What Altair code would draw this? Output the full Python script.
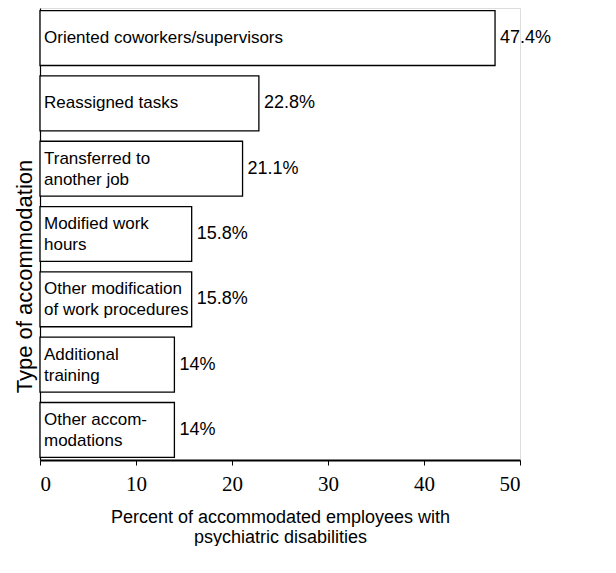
import altair as alt
import pandas as pd

categories = [
    "Oriented coworkers/supervisors",
    "Reassigned tasks",
    "Transferred to another job",
    "Modified work hours",
    "Other modification of work procedures",
    "Additional training",
    "Other accommodations",
]
bar_labels = [
    "Oriented coworkers/supervisors",
    "Reassigned  tasks",
    "Transferred to\nanother job",
    "Modified work\nhours",
    "Other modification\nof work procedures",
    "Additional\ntraining",
    "Other accom-\nmodations",
]
values = [47.4, 22.8, 21.1, 15.8, 15.8, 14.0, 14.0]
value_labels = ["47.4%", "22.8%", "21.1%", "15.8%", "15.8%", "14%", "14%"]

df = pd.DataFrame({
    "cat": categories,
    "label": bar_labels,
    "value": values,
    "vlabel": value_labels,
})
df["nlines"] = df["label"].str.count("\n") + 1

y_enc = alt.Y("cat:N", sort=categories,
              scale=alt.Scale(paddingInner=0.16, paddingOuter=0.04),
              axis=alt.Axis(title="Type of accommodation", labels=False, ticks=False,
                            domain=True, domainColor="black", domainWidth=1.2,
                            titleFont="Liberation Sans", titleFontSize=22,
                            titleFontWeight="normal", titleColor="black",
                            titlePadding=4, titleY=268))
x_enc = alt.X("value:Q",
              scale=alt.Scale(domain=[0, 50], nice=False),
              axis=alt.Axis(values=[0, 10, 20, 30, 40, 50], grid=False,
                            labelFont="Liberation Serif", labelFontSize=21,
                            labelColor="black", labelPadding=8,
                            tickSize=5, tickColor="black",
                            domainColor="black", domainWidth=2,
                            title=["Percent of accommodated employees with",
                                   "psychiatric disabilities"],
                            titleFont="Liberation Sans", titleFontSize=18,
                            titleFontWeight="normal", titleColor="black",
                            titlePadding=14))

base = alt.Chart(df)

bars = base.mark_bar(fill="white", stroke="black", strokeWidth=1.3).encode(
    x=x_enc, y=y_enc
)

inner1 = base.transform_filter("datum.nlines == 1").mark_text(
    align="left", baseline="middle", dx=4, font="Liberation Sans",
    fontSize=17, color="black"
).encode(
    x=alt.value(0), y=alt.Y("cat:N", sort=categories), text="label:N"
)

inner2 = base.transform_filter("datum.nlines == 2").mark_text(
    align="left", baseline="middle", dx=4, dy=-10, font="Liberation Sans",
    fontSize=17, color="black", lineBreak="\n", lineHeight=21
).encode(
    x=alt.value(0), y=alt.Y("cat:N", sort=categories), text="label:N"
)

outer = base.mark_text(
    align="left", baseline="middle", dx=5, font="Liberation Sans",
    fontSize=18, color="black"
).encode(
    x="value:Q", y=alt.Y("cat:N", sort=categories), text="vlabel:N"
)

chart = alt.layer(bars, inner1, inner2, outer).properties(
    width=480, height=452,
    padding={"left": 5, "top": 0, "right": 5, "bottom": 0}
).configure_view(stroke=None).configure(background="white")

chart.save("out.html", embed_options={"renderer": "svg", "actions": False})
